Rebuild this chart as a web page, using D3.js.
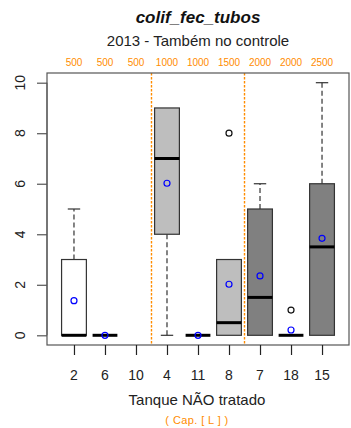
<!DOCTYPE html>
<html>
<head>
<meta charset="utf-8">
<script src="https://cdn.jsdelivr.net/npm/d3@7"></script>
<style>
  html, body { margin: 0; padding: 0; background: #fff; }
  svg { display: block; font-family: "Liberation Sans", Arial, sans-serif; }
</style>
</head>
<body>
<svg id="chart" width="351" height="428"></svg>
<script>
// Tanks (category labels) and their capacities in litres
const tanks      = ["2", "6", "10", "4", "11", "8", "7", "18", "15"];
const capacities = ["500", "500", "500", "1000", "1000", "1500", "2000", "2000", "2500"];
// Five-number summaries per tank (null = no data)
const whiskLow   = [0, 0, null, 0, 0, 0, 0, 0, 0];
const q1         = [0, 0, null, 4, 0, 0, 0, 0, 0];
const medians    = [0, 0, null, 7, 0, 0.5, 1.5, 0, 3.5];
const q3         = [3, 0, null, 9, 0, 3, 5, 0, 6];
const whiskHigh  = [5, 0, null, 9, 0, 3, 6, 0, 10];
const means      = [1.37, 0, null, 6.02, 0, 2.02, 2.35, 0.21, 3.84];
const outliers   = [[], [], [], [], [], [8], [], [1], []];
// Fill per capacity group
const fills      = ["#ffffff", "#ffffff", "#ffffff", "#bebebe", "#bebebe", "#bebebe", "#808080", "#808080", "#808080"];
// Group separators (between positions)
const separators = [3.5, 6.5];
const yTicks     = [0, 2, 4, 6, 8, 10];

const svg = d3.select("#chart");
const plotL = 47, plotR = 349, plotT = 73, plotB = 345;

const x = d3.scaleLinear().domain([0.13, 9.87]).range([plotL, plotR]);
const y = d3.scaleLinear().domain([0, 10]).range([335.3, 82.7]);
const boxW = x(1.8) - x(1.0);
const axisCol = "#555";
const boxCol = "#333";
const orange = "#ff8c00";

// Titles
svg.append("text").attr("x", 198).attr("y", 23).attr("text-anchor", "middle")
  .attr("font-size", 17).attr("font-weight", "bold").attr("font-style", "italic")
  .attr("fill", "#111").text("colif_fec_tubos");
svg.append("text").attr("x", 198).attr("y", 46).attr("text-anchor", "middle")
  .attr("font-size", 15).attr("fill", "#222").text("2013 - Também no controle");

// Capacity labels above the plot
svg.append("g").selectAll("text").data(capacities).join("text")
  .attr("x", (d, i) => x(i + 1)).attr("y", 66).attr("text-anchor", "middle")
  .attr("font-size", 10).attr("fill", orange).text(d => d);

// Group separators
svg.append("g").selectAll("line").data(separators).join("line")
  .attr("x1", d => x(d)).attr("x2", d => x(d))
  .attr("y1", plotT).attr("y2", plotB)
  .attr("stroke", orange).attr("stroke-width", 1.4).attr("stroke-dasharray", "2.5,1.5");

// Boxes
const g = svg.append("g");
tanks.forEach((t, i) => {
  if (q1[i] === null) return;
  const cx = x(i + 1);
  const dash = "5,3";
  // whiskers
  if (whiskHigh[i] > q3[i]) {
    g.append("line").attr("x1", cx).attr("x2", cx).attr("y1", y(q3[i])).attr("y2", y(whiskHigh[i]))
      .attr("stroke", boxCol).attr("stroke-width", 1.2).attr("stroke-dasharray", dash);
    g.append("line").attr("x1", cx - boxW / 4).attr("x2", cx + boxW / 4)
      .attr("y1", y(whiskHigh[i])).attr("y2", y(whiskHigh[i])).attr("stroke", boxCol).attr("stroke-width", 1.2);
  }
  if (whiskLow[i] < q1[i]) {
    g.append("line").attr("x1", cx).attr("x2", cx).attr("y1", y(q1[i])).attr("y2", y(whiskLow[i]))
      .attr("stroke", boxCol).attr("stroke-width", 1.2).attr("stroke-dasharray", dash);
    g.append("line").attr("x1", cx - boxW / 4).attr("x2", cx + boxW / 4)
      .attr("y1", y(whiskLow[i])).attr("y2", y(whiskLow[i])).attr("stroke", boxCol).attr("stroke-width", 1.2);
  }
  // box
  if (q3[i] > q1[i]) {
    g.append("rect").attr("x", cx - boxW / 2).attr("width", boxW)
      .attr("y", y(q3[i])).attr("height", y(q1[i]) - y(q3[i]))
      .attr("fill", fills[i]).attr("stroke", boxCol).attr("stroke-width", 1.2);
  }
  // median
  g.append("line").attr("x1", cx - boxW / 2).attr("x2", cx + boxW / 2)
    .attr("y1", y(medians[i])).attr("y2", y(medians[i]))
    .attr("stroke", "#000").attr("stroke-width", 3);
  // outliers
  outliers[i].forEach(v => {
    g.append("circle").attr("cx", cx).attr("cy", y(v)).attr("r", 3)
      .attr("fill", "none").attr("stroke", "#111").attr("stroke-width", 1.2);
  });
  // mean
  g.append("circle").attr("cx", cx).attr("cy", y(means[i])).attr("r", 3)
    .attr("fill", "none").attr("stroke", "#0000ff").attr("stroke-width", 1.2);
});

// Plot frame
svg.append("rect").attr("x", plotL).attr("y", plotT).attr("width", plotR - plotL).attr("height", plotB - plotT)
  .attr("fill", "none").attr("stroke", axisCol).attr("stroke-width", 1.2);

// Y axis
const yAxis = svg.append("g").attr("transform", `translate(${plotL},0)`)
  .call(d3.axisLeft(y).tickValues(yTicks).tickSize(10).tickPadding(0).tickFormat(""));
yAxis.select(".domain").attr("stroke", axisCol).attr("d", `M0,${y(0)}V${y(10)}`);
yAxis.selectAll(".tick line").attr("stroke", axisCol).attr("stroke-width", 1.2);
svg.append("g").selectAll("text").data(yTicks).join("text")
  .attr("transform", d => `translate(25,${y(d)}) rotate(-90)`)
  .attr("text-anchor", "middle").attr("font-size", 14).attr("fill", "#222").text(d => d);

// X axis
const xAxis = svg.append("g").attr("transform", `translate(0,${plotB})`)
  .call(d3.axisBottom(x).tickValues(d3.range(1, 10)).tickSize(10).tickFormat(""));
xAxis.select(".domain").remove();
xAxis.selectAll(".tick line").attr("stroke", "#222").attr("stroke-width", 1.2);
svg.append("g").selectAll("text").data(tanks).join("text")
  .attr("x", (d, i) => x(i + 1)).attr("y", 380).attr("text-anchor", "middle")
  .attr("font-size", 14).attr("fill", "#222").text(d => d);

svg.append("text").attr("x", 197).attr("y", 405).attr("text-anchor", "middle")
  .attr("font-size", 15).attr("fill", "#222").text("Tanque NÃO tratado");
svg.append("text").attr("x", 197).attr("y", 424).attr("text-anchor", "middle")
  .attr("font-size", 11).attr("letter-spacing", 0.4).attr("fill", orange).text("( Cap. [ L ] )");
</script>
</body>
</html>
